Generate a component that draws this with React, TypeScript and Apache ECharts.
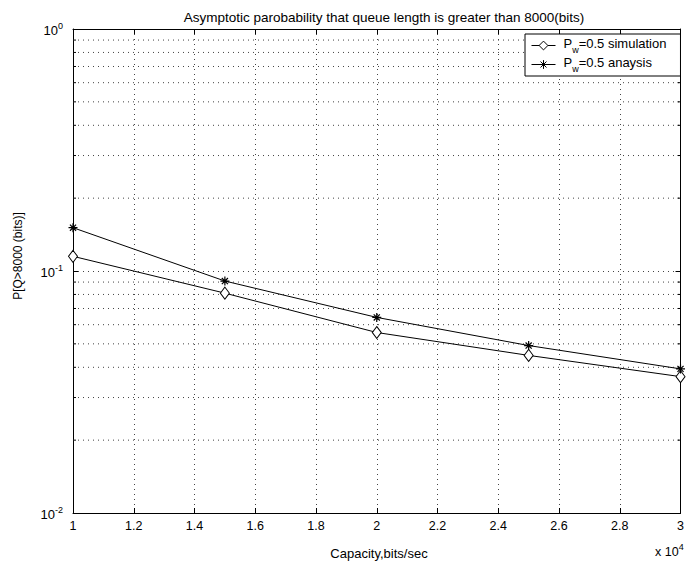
import React, { useEffect, useRef } from 'react';
import * as echarts from 'echarts';

const capacity = [1, 1.5, 2, 2.5, 3];
const simulation = [0.115, 0.081, 0.0557, 0.0448, 0.0366];
const analysis = [0.151, 0.0909, 0.0643, 0.0492, 0.0394];
const minorYTicks = [0.02, 0.03, 0.04, 0.05, 0.06, 0.07, 0.08, 0.09, 0.2, 0.3, 0.4, 0.5, 0.6, 0.7, 0.8, 0.9];
const seriesNames = ['P_w=0.5 simulation', 'P_w=0.5 anaysis'];
const titleText = 'Asymptotic parobability that queue length is greater than 8000(bits)';
const xName = 'Capacity,bits/sec';
const yName = 'P[Q>8000 (bits)]';

const FONT = '"Liberation Sans", Arial, Helvetica, sans-serif';
const STAR = 'path://M5 0 L5 10 M0 5 L10 5 M1.6 1.6 L8.4 8.4 M1.6 8.4 L8.4 1.6';

export default function App() {
  const ref = useRef<HTMLDivElement>(null);
  useEffect(() => {
    if (!ref.current) return;
    const chart = echarts.init(ref.current, undefined, { renderer: 'svg' });
    const dotted = { color: '#444', width: 1, type: [1, 4] as any };
    const tick = { show: true, inside: true, length: 5, lineStyle: { color: '#000' } };
    const axisLine = { show: true, onZero: false, lineStyle: { color: '#000', width: 1 } };
    const expLabel = (v: number) => {
      const e = Math.round(Math.log10(v));
      return `{b|10}{s|${e}}`;
    };
    chart.setOption({
      animation: false,
      textStyle: { fontFamily: FONT },
      title: {
        text: titleText,
        left: 379,
        textAlign: 'center',
        top: 5,
        textStyle: { fontSize: 13.5, fontWeight: 'normal', color: '#000', fontFamily: FONT },
      },
      grid: { left: 73, right: 2, top: 29, bottom: 55, containLabel: false },
      legend: {
        orient: 'vertical',
        left: 525,
        top: 34,
        padding: [3, 14, 3, 6],
        itemGap: 2,
        itemWidth: 24,
        itemHeight: 11,
        backgroundColor: '#fff',
        borderColor: '#000',
        borderWidth: 1,
        data: seriesNames,
        itemStyle: { borderWidth: 1 },
        lineStyle: { width: 1 },
        formatter: (name: string) => {
          const rest = name.slice(3);
          return `{a|P}{s|w}{a|${rest}}`;
        },
        textStyle: {
          color: '#000',
          fontFamily: FONT,
          padding: [0, 0, 0, 3],
          rich: {
            a: { fontSize: 13, color: '#000', fontFamily: FONT, verticalAlign: 'top', lineHeight: 17 },
            s: { fontSize: 9, color: '#000', fontFamily: FONT, verticalAlign: 'bottom', lineHeight: 17, padding: [6, 0, 0, 0] },
          },
        },
      },
      xAxis: [
        {
          type: 'value',
          min: 1,
          max: 3,
          interval: 0.2,
          position: 'bottom',
          axisLine,
          axisTick: tick,
          splitLine: { show: true, lineStyle: dotted },
          axisLabel: {
            color: '#000',
            fontSize: 12.5,
            margin: 6,
            fontFamily: FONT,
            formatter: (v: number) => String(+v.toFixed(1)),
          },
        },
        {
          type: 'value',
          min: 1,
          max: 3,
          interval: 0.2,
          position: 'top',
          axisLine,
          axisTick: tick,
          splitLine: { show: false },
          axisLabel: { show: false },
        },
      ],
      yAxis: [
        {
          type: 'log',
          logBase: 10,
          min: 0.01,
          max: 1,
          position: 'left',
          axisLine,
          axisTick: tick,
          splitLine: { show: true, lineStyle: dotted },
          axisLabel: {
            color: '#000',
            margin: 10,
            formatter: expLabel,
            rich: {
              b: { fontSize: 13, color: '#000', fontFamily: FONT, verticalAlign: 'bottom', lineHeight: 16 },
              s: { fontSize: 9, color: '#000', fontFamily: FONT, verticalAlign: 'top', lineHeight: 16 },
            },
          },
        },
        {
          type: 'log',
          logBase: 10,
          min: 0.01,
          max: 1,
          position: 'right',
          axisLine,
          axisTick: tick,
          splitLine: { show: false },
          axisLabel: { show: false },
        },
      ],
      graphic: [
        {
          type: 'text',
          x: 379,
          y: 553,
          style: { text: xName, fontSize: 13, fill: '#000', fontFamily: FONT, align: 'center', verticalAlign: 'middle' },
        },
        {
          type: 'text',
          x: 18,
          y: 256,
          rotation: Math.PI / 2,
          style: { text: yName, fontSize: 12, fill: '#000', fontFamily: FONT, align: 'center', verticalAlign: 'middle' },
        },
        {
          type: 'text',
          x: 655,
          y: 550,
          style: {
            text: '{b|x 10}{s|4}',
            fill: '#000',
            verticalAlign: 'middle',
            rich: {
              b: { fontSize: 12.5, fill: '#000', fontFamily: FONT, verticalAlign: 'bottom', lineHeight: 16 },
              s: { fontSize: 9, fill: '#000', fontFamily: FONT, verticalAlign: 'top', lineHeight: 16 },
            },
          },
        },
      ],
      series: [
        {
          name: 'minor-grid',
          type: 'custom',
          xAxisIndex: 0,
          yAxisIndex: 0,
          silent: true,
          z: 1,
          data: minorYTicks.map((v) => [1, v]),
          renderItem: (params: any, api: any) => {
            const cs = params.coordSys;
            const p = api.coord([api.value(0), api.value(1)]);
            const y = p[1];
            const x0 = cs.x;
            const x1 = cs.x + cs.width;
            return {
              type: 'group',
              children: [
                {
                  type: 'line',
                  shape: { x1: x0, y1: y, x2: x1, y2: y },
                  style: { stroke: '#444', lineWidth: 1, lineDash: [1, 4] },
                },
                {
                  type: 'line',
                  shape: { x1: x0, y1: y, x2: x0 + 3, y2: y },
                  style: { stroke: '#000', lineWidth: 1 },
                },
                {
                  type: 'line',
                  shape: { x1: x1 - 3, y1: y, x2: x1, y2: y },
                  style: { stroke: '#000', lineWidth: 1 },
                },
              ],
            };
          },
        },
        {
          name: seriesNames[0],
          type: 'line',
          xAxisIndex: 0,
          yAxisIndex: 0,
          z: 3,
          data: capacity.map((x, i) => [x, simulation[i]]),
          symbol: 'diamond',
          symbolSize: [9, 12],
          showAllSymbol: true,
          lineStyle: { color: '#000', width: 1 },
          itemStyle: { color: '#fff', borderColor: '#000', borderWidth: 1 },
        },
        {
          name: seriesNames[1],
          type: 'line',
          xAxisIndex: 0,
          yAxisIndex: 0,
          z: 3,
          data: capacity.map((x, i) => [x, analysis[i]]),
          symbol: STAR,
          symbolSize: 9,
          showAllSymbol: true,
          lineStyle: { color: '#000', width: 1 },
          itemStyle: { color: '#000', borderColor: '#000', borderWidth: 1.2 },
        },
      ],
    });
    return () => chart.dispose();
  }, []);
  return (
    <div
      ref={ref}
      style={{ position: 'fixed', left: 0, top: 0, width: 687, height: 568, background: '#fff' }}
    />
  );
}
